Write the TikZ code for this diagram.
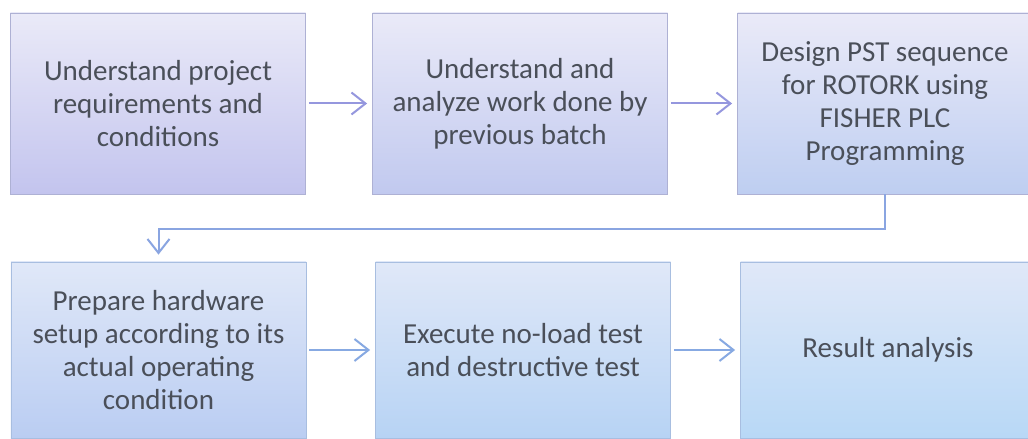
\documentclass[tikz,border=0pt]{standalone}
\usepackage{fontspec}
\setmainfont{Carlito}
\usepackage{tikz}
\usetikzlibrary{arrows.meta,positioning}
\definecolor{TextGrey}{HTML}{4A4F59}
\definecolor{PaleTop}{HTML}{EAEAF8}
\definecolor{PaleBot}{HTML}{E0E8F8}
\definecolor{Lav}{HTML}{C3C4EE}
\definecolor{LavBlue}{HTML}{C1C9EF}
\definecolor{PeriBlue}{HTML}{BECEF1}
\definecolor{SoftBlue}{HTML}{BACDF2}
\definecolor{SkyBlue}{HTML}{B7D3F4}
\definecolor{IceBlue}{HTML}{B8D8F6}
\definecolor{EdgeLav}{HTML}{AEB1D4}
\definecolor{EdgeBlue}{HTML}{A8BEE0}
\definecolor{ArrowLav}{HTML}{9597DE}
\definecolor{ArrowBlue}{HTML}{87A9E2}

\begin{document}
\begin{tikzpicture}[x=1bp,y=-1bp,
  stage/.style={rectangle,minimum width=295bp,minimum height=181bp,
    inner sep=0pt,align=center,text=TextGrey,line width=0.8bp,
    font=\fontsize{29bp}{33bp}\selectfont},
  toprow/.style={stage,draw=EdgeLav,top color=PaleTop,bottom color=#1},
  botrow/.style={stage,draw=EdgeBlue,minimum height=176bp,top color=PaleBot,bottom color=#1},
  flow/.style={line width=2bp,-{Straight Barb[length=14bp,width=22bp]},shorten <=3bp,shorten >=5bp}]
  \useasboundingbox (0,0) rectangle (1028,439);
  \fill[white] (0,0) rectangle (1028,439);

  % first row
  \node[toprow=Lav] (understand) at (158,103.5)
    {Understand project\\requirements and\\conditions};
  \node[toprow=LavBlue] (analyze) at (520,103.5)
    {Understand and\\analyze work done by\\previous batch};
  \node[toprow=PeriBlue] (design) at (885,103.5)
    {Design PST sequence\\for ROTORK using\\FISHER PLC\\Programming};

  % second row
  \node[botrow=SoftBlue] (prepare) at (158.5,350)
    {Prepare hardware\\setup according to its\\actual operating\\condition};
  \node[botrow=SkyBlue] (execute) at (523,350)
    {Execute no-load test\\and destructive test};
  \node[botrow=IceBlue] (result) at (888,350)
    {Result analysis};

  % connectors
  \draw[flow,ArrowLav] (understand) -- (analyze);
  \draw[flow,ArrowLav] (analyze) -- (design);
  \draw[flow,ArrowBlue!80!ArrowLav,shorten <=0pt,shorten >=7bp]
    (design.south) -- ++(0,35) -| (prepare.north);
  \draw[flow,ArrowBlue] (prepare) -- (execute);
  \draw[flow,ArrowBlue] (execute) -- (result);
\end{tikzpicture}
\end{document}
